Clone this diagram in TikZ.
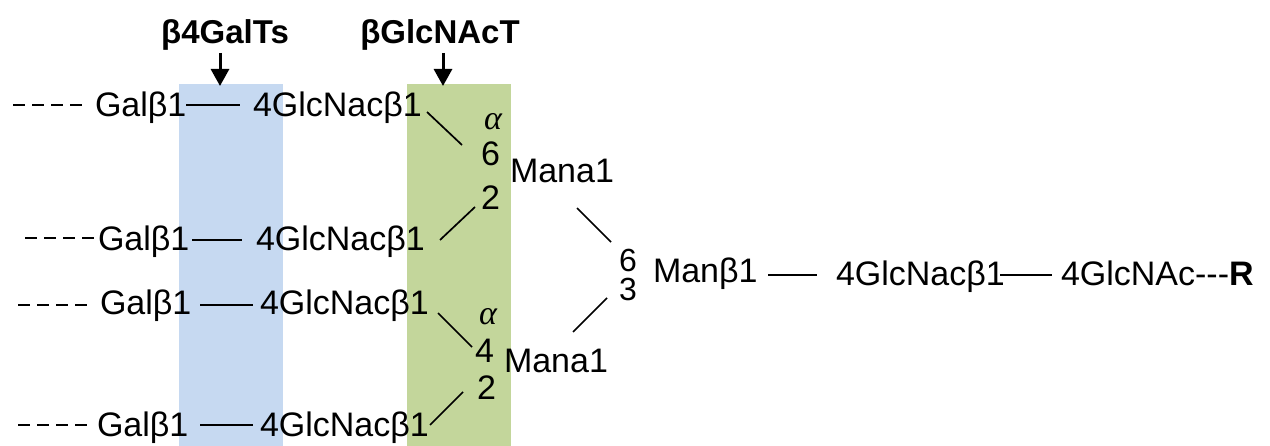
\documentclass[tikz,border=0pt]{standalone}
\usepackage{fontspec}
\setmainfont{Liberation Sans}
\newfontfamily\greekit{Liberation Serif}
\usetikzlibrary{arrows.meta}
\definecolor{bluefill}{HTML}{C6D9F1}
\definecolor{greenfill}{HTML}{C3D69B}
\begin{document}
\begin{tikzpicture}[x=1pt,y=-1pt,
  txt/.style={inner sep=0pt, outer sep=0pt, anchor=base west, font=\fontsize{34}{40}\selectfont},
  linknum/.style={inner sep=0pt, outer sep=0pt, anchor=base west, font=\fontsize{32}{38}\selectfont},
  ttl/.style={inner sep=0pt, outer sep=0pt, anchor=base, font=\fontsize{33}{40}\selectfont\bfseries},
  link/.style={line width=1.7pt, black},
  dashlink/.style={line width=1.7pt, black, dash pattern=on 12pt off 7pt},
  enzarrow/.style={line width=3pt, black, -{Triangle[length=17pt,width=18pt]}},
  band/.style={inner sep=0pt, outer sep=0pt, anchor=north west, minimum width=104pt, minimum height=362pt}]
\useasboundingbox (0,0) rectangle (1270,446);

% coloured bands
\node[band, fill=bluefill] (blue) at (179,84) {};
\node[band, fill=greenfill] (green) at (407,84) {};

% enzyme titles
\node[ttl] (t1) at (225,44) {β4GalTs};
\node[ttl] (t2) at (440,44) {βGlcNAcT};
\draw[enzarrow] ([shift={(-5,9)}]t1.base) -- ([shift={(-11,2)}]blue.north);
\draw[enzarrow] ([shift={(3,9)}]t2.base) -- ([shift={(-16,2)}]green.north);

% antenna rows
\node[txt] (gal1) at (95,117) {Galβ1};
\node[txt] (glc1) at (253,117) {4GlcNacβ1};
\node[txt] (gal2) at (98,251) {Galβ1};
\node[txt] (glc2) at (256,251) {4GlcNacβ1};
\node[txt] (gal3) at (100,315) {Galβ1};
\node[txt] (glc3) at (260,315) {4GlcNacβ1};
\node[txt] (gal4) at (97,436) {Galβ1};
\node[txt] (glc4) at (260,436) {4GlcNacβ1};

% free ends of the dashed stubs
\coordinate (ds1) at (13,105);
\coordinate (ds2) at (25,238);
\coordinate (ds3) at (18,305);
\coordinate (ds4) at (18,425);
\draw[dashlink] (ds1) -- ([shift={(-12,-12)}]gal1.base west);
\draw[dashlink] (ds2) -- ([shift={(-1,-13)}]gal2.base west);
\draw[dashlink] (ds3) -- ([shift={(-13,-10)}]gal3.base west);
\draw[dashlink] (ds4) -- ([shift={(-10,-11)}]gal4.base west);

\draw[link] ([shift={(91,-12)}]gal1.base west) -- ([shift={(-13,-12)}]glc1.base west);
\draw[link] ([shift={(94,-11)}]gal2.base west) -- ([shift={(-14,-11)}]glc2.base west);
\draw[link] ([shift={(100,-10)}]gal3.base west) -- ([shift={(-7,-10)}]glc3.base west);
\draw[link] ([shift={(103,-11)}]gal4.base west) -- ([shift={(-7,-11)}]glc4.base west);

% upper mannose branch
\node[txt] (al1) at (484,130) {\greekit\itshape α};
\node[txt] (six1) at (481,166) {6};
\node[txt] (mana1) at (510,183) {Mana1};
\node[txt] (two1) at (481,210) {2};

% lower mannose branch
\node[txt] (al2) at (479,325) {\greekit\itshape α};
\node[txt] (four2) at (475,363) {4};
\node[txt] (mana2) at (504,373) {Mana1};
\node[txt] (two2) at (477,400) {2};

% core
\node[linknum] (sixm) at (619,272) {6};
\node[linknum] (threem) at (619,301) {3};
\node[txt] (manb) at (653,283) {Manβ1};
\node[txt] (glcm) at (836,286) {4GlcNacβ1};
\node[txt] (glcnac) at (1061,286) {4GlcNAc-{}-{}-\textbf{R}};

% diagonal linkages
\draw[link] ([shift={(174,-5)}]glc1.base west) -- ([shift={(-19,-21)}]six1.base west);
\draw[link] ([shift={(184,-11)}]glc2.base west) -- ([shift={(-6,-3)}]two1.base west);
\draw[link] ([shift={(67,25)}]mana1.base west) -- ([shift={(-8,-30)}]sixm.base west);
\draw[link] ([shift={(-12,-3)}]threem.base west) -- ([shift={(69,-41)}]mana2.base west);
\draw[link] ([shift={(178,-2)}]glc3.base west) -- ([shift={(-3,-16)}]four2.base west);
\draw[link] ([shift={(170,-11)}]glc4.base west) -- ([shift={(-14,-8)}]two2.base west);

% core linkages
\draw[link] ([shift={(115,-8)}]manb.base west) -- ([shift={(-19,-11)}]glcm.base west);
\draw[link] ([shift={(164,-11)}]glcm.base west) -- ([shift={(-9,-11)}]glcnac.base west);
\end{tikzpicture}
\end{document}
